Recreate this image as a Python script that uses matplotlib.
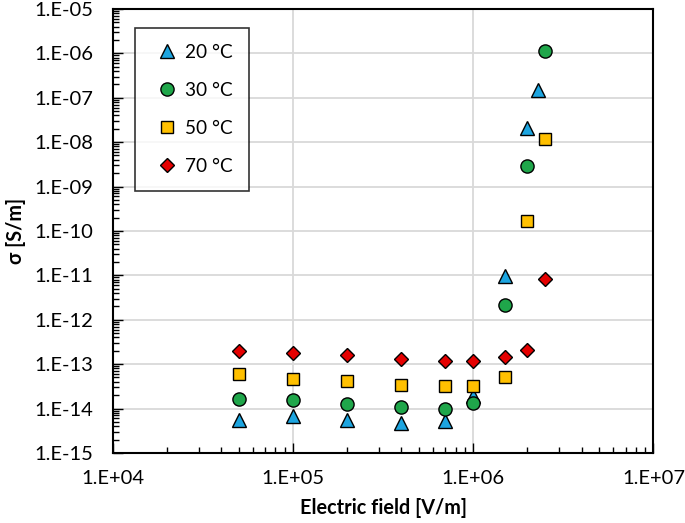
import numpy as np
import matplotlib
matplotlib.use("Agg")
import matplotlib.pyplot as plt
from matplotlib.ticker import FixedLocator, FuncFormatter, LogLocator, NullFormatter

plt.rcParams['font.family'] = ['Lato', 'DejaVu Sans']

x20 = [5e4, 1e5, 2e5, 4e5, 7e5, 1e6, 1.5e6, 2e6, 2.3e6]
y20 = [5.6e-15, 6.7e-15, 5.6e-15, 4.7e-15, 5.1e-15, 1.9e-14, 9.8e-12, 2.1e-8, 1.5e-7]
x30 = [5e4, 1e5, 2e5, 4e5, 7e5, 1e6, 1.5e6, 2e6, 2.5e6]
y30 = [1.63e-14, 1.58e-14, 1.26e-14, 1.08e-14, 1.0e-14, 1.32e-14, 2.1e-12, 2.9e-9, 1.1e-6]
x50 = [5e4, 1e5, 2e5, 4e5, 7e5, 1e6, 1.5e6, 2e6, 2.5e6]
y50 = [6.1e-14, 4.7e-14, 4.1e-14, 3.45e-14, 3.16e-14, 3.16e-14, 5.1e-14, 1.7e-10, 1.2e-8]
x70 = [5e4, 1e5, 2e5, 4e5, 7e5, 1e6, 1.5e6, 2e6, 2.5e6]
y70 = [1.93e-13, 1.77e-13, 1.57e-13, 1.32e-13, 1.19e-13, 1.19e-13, 1.41e-13, 2.1e-13, 8.1e-12]
labels = ['20 °C', '30 °C', '50 °C', '70 °C']

fig = plt.figure(figsize=(6.85, 5.23), dpi=100)
ax = fig.add_axes([0.1645, 0.134, 0.7895, 0.849])

ax.set_xscale('log')
ax.set_yscale('log')
ax.set_xlim(1e4, 1e7)
ax.set_ylim(1e-15, 1e-5)

kw = dict(linestyle='none', markeredgecolor='black', markeredgewidth=1.0, zorder=3)
ax.plot(x20, y20, marker='^', markersize=10, color='#1da5e0', label=labels[0], **kw)
ax.plot(x30, y30, marker='o', markersize=9.5, color='#1fa64a', label=labels[1], **kw)
ax.plot(x50, y50, marker='s', markersize=8.5, color='#ffc000', label=labels[2], **kw)
ax.plot(x70, y70, marker='D', markersize=7.5, color='#e50000', label=labels[3], **kw)

fmt = FuncFormatter(lambda v, p: "1.E{:+03d}".format(int(round(np.log10(v)))))
ax.xaxis.set_major_locator(FixedLocator([1e4, 1e5, 1e6, 1e7]))
ax.yaxis.set_major_locator(FixedLocator([10.0**k for k in range(-15, -4)]))
ax.xaxis.set_major_formatter(fmt)
ax.yaxis.set_major_formatter(fmt)
ax.xaxis.set_minor_locator(LogLocator(base=10, subs=np.arange(2, 10), numticks=20))
ax.yaxis.set_minor_locator(LogLocator(base=10, subs=np.arange(2, 10), numticks=20))
ax.xaxis.set_minor_formatter(NullFormatter())
ax.yaxis.set_minor_formatter(NullFormatter())

ax.tick_params(which='major', direction='in', length=7, width=1, labelsize=14.5, colors='black')
ax.tick_params(which='minor', direction='in', length=4, width=1)
ax.tick_params(axis='y', which='major', pad=14)
ax.tick_params(axis='x', which='major', pad=12)

ax.grid(True, which='major', color='#d9d9d9', linewidth=1.3, zorder=0)
ax.set_axisbelow(True)
for s in ax.spines.values():
    s.set_linewidth(1.5)
    s.set_color('black')

ax.set_xlabel('Electric field [V/m]', fontsize=14.3, fontweight='bold', labelpad=8)
ax.set_ylabel('σ [S/m]', fontsize=14.3, fontweight='bold', labelpad=6)

leg = ax.legend(loc='upper left', bbox_to_anchor=(0.042, 0.958), frameon=True, fancybox=False,
                edgecolor='black', fontsize=13.7, labelspacing=1.1, handletextpad=0.15,
                borderpad=0.85, handlelength=1.6, borderaxespad=0)
leg.get_frame().set_linewidth(1.2)

fig.savefig('out.png', dpi=100, facecolor='white')
